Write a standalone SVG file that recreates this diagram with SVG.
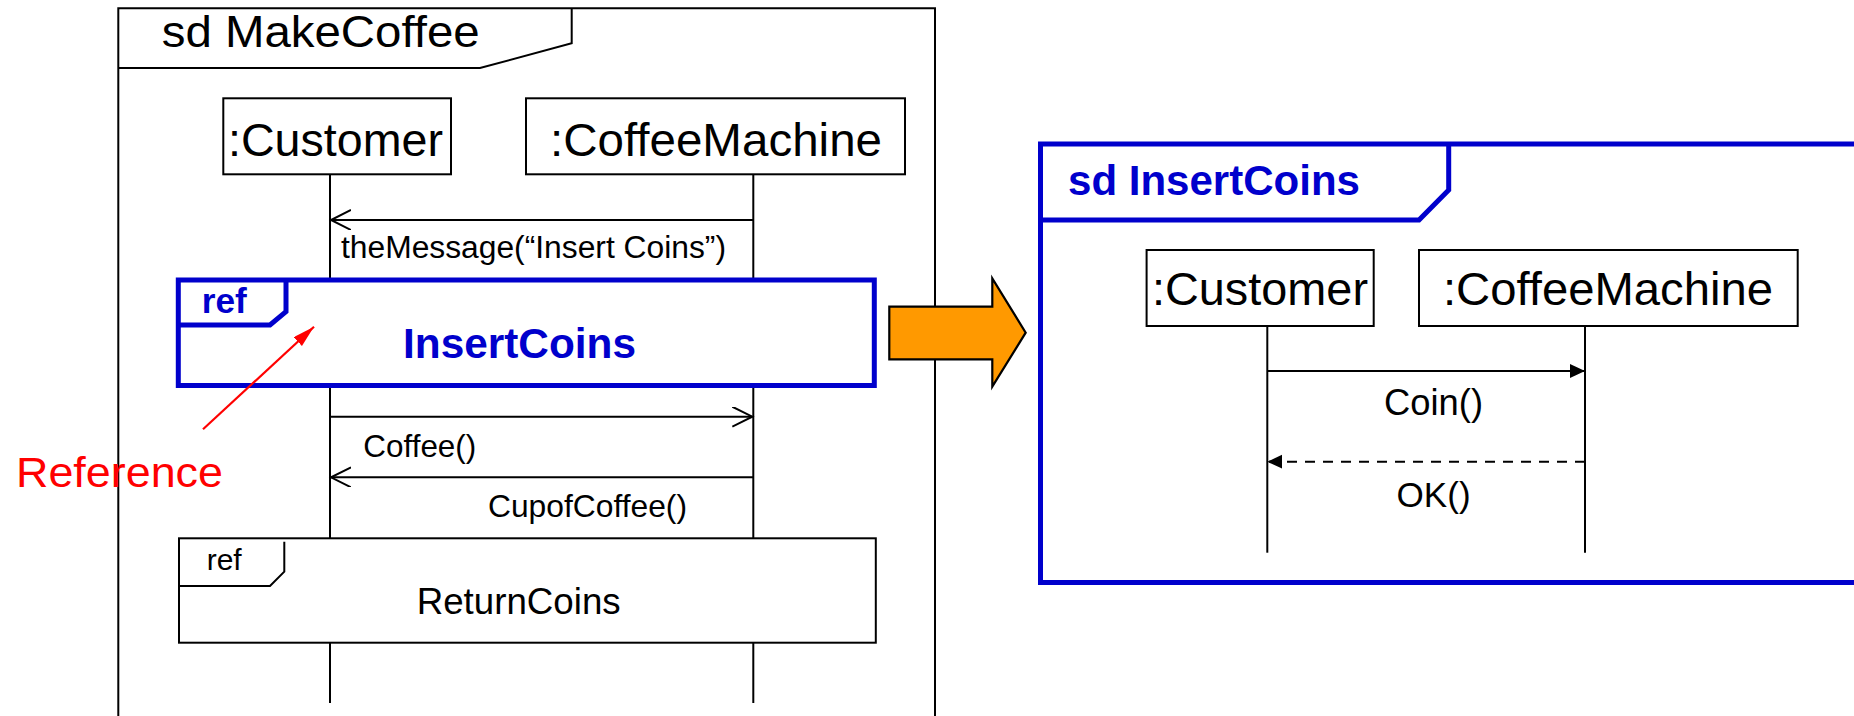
<svg xmlns="http://www.w3.org/2000/svg" width="1854" height="716" viewBox="0 0 1854 716">
<style>
text{font-family:"Liberation Sans",Arial,sans-serif;fill:#000}
.blk{fill:none;stroke:#000;stroke-width:2}
.box{fill:#fff;stroke:#000;stroke-width:2}
.blue{fill:none;stroke:#0000CC;stroke-width:5}
.bluefill{fill:#fff;stroke:#0000CC;stroke-width:5}
.life{stroke:#000;stroke-width:2;fill:none}
.msg{stroke:#000;stroke-width:2;fill:none}
.bt{fill:#0000CC;font-weight:bold}
</style>
<defs>
<marker id="open" markerWidth="24" markerHeight="24" refX="20" refY="10" orient="auto" markerUnits="userSpaceOnUse" viewBox="0 0 24 24">
<path d="M0,0 L20,10 L0,20" fill="none" stroke="#000" stroke-width="2"/>
</marker>
<marker id="filled" markerWidth="16" markerHeight="16" refX="15" refY="7" orient="auto" markerUnits="userSpaceOnUse" viewBox="0 0 16 16">
<path d="M0,0 L15,7 L0,14 Z" fill="#000"/>
</marker>
<marker id="red" markerWidth="24" markerHeight="14" refX="22" refY="6" orient="auto" markerUnits="userSpaceOnUse" viewBox="0 0 24 14">
<path d="M0,0 L22,6 L0,12 Z" fill="#FF0000"/>
</marker>
</defs>

<g id="frame-makecoffee">
<path class="blk" d="M118.3,716 V8.3 H935 V716"/>
<path class="blk" d="M118.3,68 H480 L571.7,43.3 V8.3"/>
<text x="161.7" y="47" font-size="45" textLength="318" lengthAdjust="spacingAndGlyphs">sd MakeCoffee</text>
</g>

<g id="lifelines-left">
<line class="life" x1="330" y1="174" x2="330" y2="703"/>
<line class="life" x1="753.3" y1="174" x2="753.3" y2="703"/>
</g>

<g id="customer-left">
<rect class="box" x="223.3" y="98.3" width="227.7" height="76"/>
<text x="228" y="156" font-size="46.5" textLength="215" lengthAdjust="spacingAndGlyphs">:Customer</text>
</g>

<g id="coffeemachine-left">
<rect class="box" x="526" y="98.3" width="379" height="76"/>
<text x="550" y="156" font-size="47" textLength="332" lengthAdjust="spacingAndGlyphs">:CoffeeMachine</text>
</g>

<g id="ref-insertcoins">
<rect class="bluefill" x="178.3" y="280" width="696" height="105.5"/>
<path class="blue" d="M178.3,325 H270 L286,311.7 V280"/>
<text class="bt" x="201.7" y="313" font-size="35" textLength="45" lengthAdjust="spacingAndGlyphs">ref</text>
<text class="bt" x="403" y="358.3" font-size="42.4" textLength="233" lengthAdjust="spacingAndGlyphs">InsertCoins</text>
</g>

<g id="ref-returncoins">
<rect class="box" x="179" y="538.3" width="696.8" height="104.4"/>
<path class="blk" d="M179,586 H270 L284.3,571.7 V541.7"/>
<text x="206.7" y="570" font-size="30" textLength="35" lengthAdjust="spacingAndGlyphs">ref</text>
<text x="416.7" y="614" font-size="36.7" textLength="204" lengthAdjust="spacingAndGlyphs">ReturnCoins</text>
</g>

<g id="annotation-reference">
<line x1="203" y1="429.3" x2="314" y2="326.7" stroke="#FF0000" stroke-width="2.2" marker-end="url(#red)"/>
<text x="16" y="486.7" font-size="43" textLength="207" lengthAdjust="spacingAndGlyphs" style="fill:#FF0000">Reference</text>
</g>

<g id="orange-arrow">
<polygon points="889.3,306.7 992.3,306.7 992.3,278.3 1025.7,332.7 992.3,386.7 992.3,359.3 889.3,359.3" fill="#FF9900" stroke="#000" stroke-width="2.2" stroke-linejoin="miter"/>
</g>

<g id="frame-insertcoins">
<path class="blue" d="M1860,144 H1040.5 V582.5 H1860"/>
<path class="blue" d="M1040.5,220 H1419 L1448.7,190 V144"/>
<text class="bt" x="1068" y="195" font-size="42" textLength="292" lengthAdjust="spacingAndGlyphs">sd InsertCoins</text>
</g>

<g id="lifelines-right">
<line class="life" x1="1267.3" y1="326" x2="1267.3" y2="552.7"/>
<line class="life" x1="1585" y1="326" x2="1585" y2="552.7"/>
</g>

<g id="customer-right">
<rect class="box" x="1146.6" y="250" width="227.1" height="76"/>
<text x="1152" y="305" font-size="46.5" textLength="216" lengthAdjust="spacingAndGlyphs">:Customer</text>
</g>

<g id="coffeemachine-right">
<rect class="box" x="1419" y="250" width="378.7" height="76"/>
<text x="1443" y="305" font-size="47" textLength="330" lengthAdjust="spacingAndGlyphs">:CoffeeMachine</text>
</g>

<g id="connectors">
<line class="msg" x1="753.3" y1="220" x2="331" y2="220" marker-end="url(#open)"/>
<text x="341" y="258.3" font-size="31" textLength="385" lengthAdjust="spacingAndGlyphs">theMessage(“Insert Coins”)</text>
<line class="msg" x1="330" y1="416.7" x2="752.3" y2="416.7" marker-end="url(#open)"/>
<text x="363.3" y="456.7" font-size="31.2" textLength="113" lengthAdjust="spacingAndGlyphs">Coffee()</text>
<line class="msg" x1="753.3" y1="477.3" x2="331" y2="477.3" marker-end="url(#open)"/>
<text x="488" y="516.7" font-size="31.6" textLength="199" lengthAdjust="spacingAndGlyphs">CupofCoffee()</text>
<line class="msg" x1="1267.3" y1="371" x2="1585" y2="371" marker-end="url(#filled)"/>
<text x="1384" y="415" font-size="36.4" textLength="99" lengthAdjust="spacingAndGlyphs">Coin()</text>
<line class="msg" x1="1585" y1="461.7" x2="1267.3" y2="461.7" stroke-dasharray="10,8" marker-end="url(#filled)"/>
<text x="1396.6" y="506.7" font-size="35.2" textLength="74" lengthAdjust="spacingAndGlyphs">OK()</text>
</g>
</svg>
